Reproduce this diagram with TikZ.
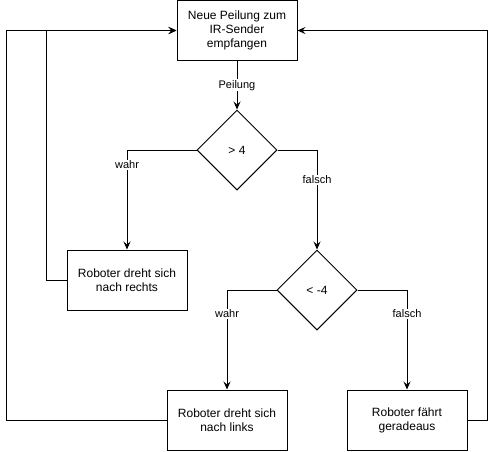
\documentclass[tikz,border=0pt]{standalone}
\usepackage{fontspec}
\setmainfont{Liberation Sans}
\usetikzlibrary{arrows.meta,shapes.geometric}

\begin{document}
\begin{tikzpicture}[x=1pt,y=-1pt,line width=1pt,>={Stealth[length=8pt,width=7pt,inset=3pt]},
	box/.style={draw,minimum width=120pt,minimum height=60pt,align=center,font=\fontsize{12}{14}\selectfont},
	cond/.style={draw,diamond,minimum width=80pt,minimum height=80pt,inner sep=0pt,font=\fontsize{12}{14}\selectfont},
	lbl/.style={fill=white,inner sep=1pt,font=\fontsize{11}{13}\selectfont}]
	\useasboundingbox (0,0) rectangle (496,451);

	\node[box] (peilung) at (237,30.5) {Neue Peilung zum\\IR-Sender\\empfangen};
	\node[cond] (groesser) at (237,150) {> 4};
	\node[box] (rechts) at (127,280) {Roboter dreht sich\\nach rechts};
	\node[cond] (kleiner) at (317,290) {< -4};
	\node[box] (links) at (227,420) {Roboter dreht sich\\nach links};
	\node[box] (gerade) at (407,420) {Roboter fährt\\geradeaus};

	\draw[->] (peilung) -- node[lbl] {Peilung} (groesser);
	\draw[->] (groesser.west) -| node[lbl,pos=.575] {wahr} (rechts.north);
	\draw[->] (groesser.east) -| node[lbl,pos=.65] {falsch} (kleiner.north);
	\draw[->] (kleiner.west) -| node[lbl,pos=.62] {wahr} (links.north);
	\draw[->] (kleiner.east) -| node[lbl,pos=.62] {falsch} (gerade.north);

	% zurueck zum Anfang
	\draw[->] (rechts.west) -- ++(-20,0) |- (peilung.west);
	\draw[->] (links.west) -- ++(-160,0) |- (peilung.west);
	\draw[->] (gerade.east) -- ++(20,0) |- (peilung.east);
\end{tikzpicture}
\end{document}
